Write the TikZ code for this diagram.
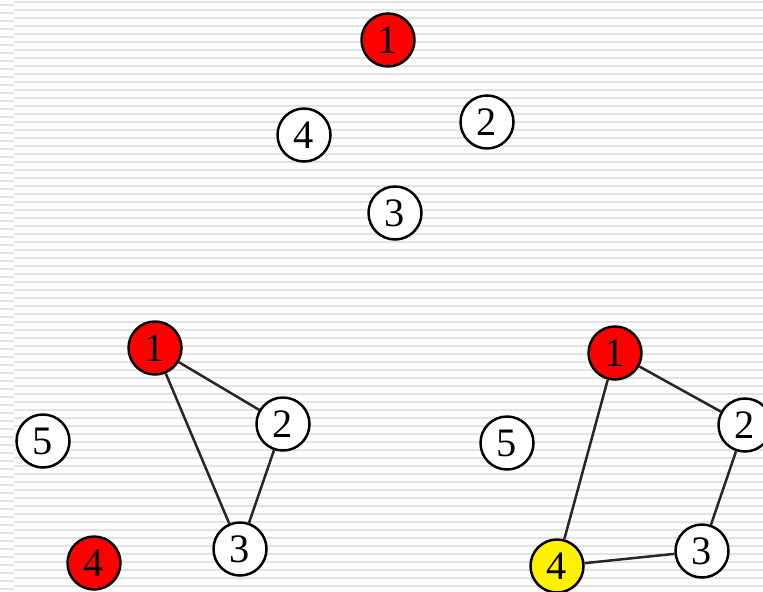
\documentclass[tikz,border=0pt]{standalone}
\usepackage{fontspec}
\setmainfont{Liberation Serif}
\usepackage{tikz}
\tikzset{>=latex}
\tikzset{
  vert/.style={circle,draw=black,line width=0.05cm,fill=white,minimum size=1.06cm,inner sep=0pt,font=\fontsize{23}{26}\selectfont},
  red/.style={vert,fill=red},
  yel/.style={vert,fill=yellow},
  stripe/.style={draw=gray!22,line width=0.04cm},
  edge/.style={line width=0.05cm,draw=black!85}
}

\begin{document}
\begin{tikzpicture}[x=0.02cm,y=-0.02cm]
            \useasboundingbox (0,0) rectangle (763,591);
            \clip (0,0) rectangle (763,591);
            % striped background
            \fill[white] (0,0) rectangle (763,591);
            \foreach \y in {2,10,...,590} \draw[stripe] (14,\y) -- (763,\y);
            \foreach \y in {5,13,...,590} \draw[stripe] (0,\y) -- (14,\y);
            % top graph
            \node[red] (t1) at (388,40){1};
            \node[vert] (t2) at (487,122){2};
            \node[vert] (t3) at (395,213){3};
            \node[vert] (t4) at (304,135){4};
            % lower left graph
            \node[red] (l1) at (155,348){1};
            \node[vert] (l2) at (283,424){2};
            \node[vert] (l3) at (240,549){3};
            \node[red] (l4) at (94,563){4};
            \node[vert] (l5) at (43,441){5};
            \draw[edge] (l1) -- (l2);
            \draw[edge] (l1) -- (l3);
            \draw[edge] (l2) -- (l3);
            % lower right graph
            \node[red] (r1) at (615,353){1};
            \node[vert] (r2) at (745,425){2};
            \node[vert] (r3) at (702,551){3};
            \node[yel] (r4) at (557,566){4};
            \node[vert] (r5) at (507,443){5};
            \draw[edge] (r1) -- (r2);
            \draw[edge] (r2) -- (r3);
            \draw[edge] (r3) -- (r4);
            \draw[edge] (r4) -- (r1);
        \end{tikzpicture}
\end{document}
